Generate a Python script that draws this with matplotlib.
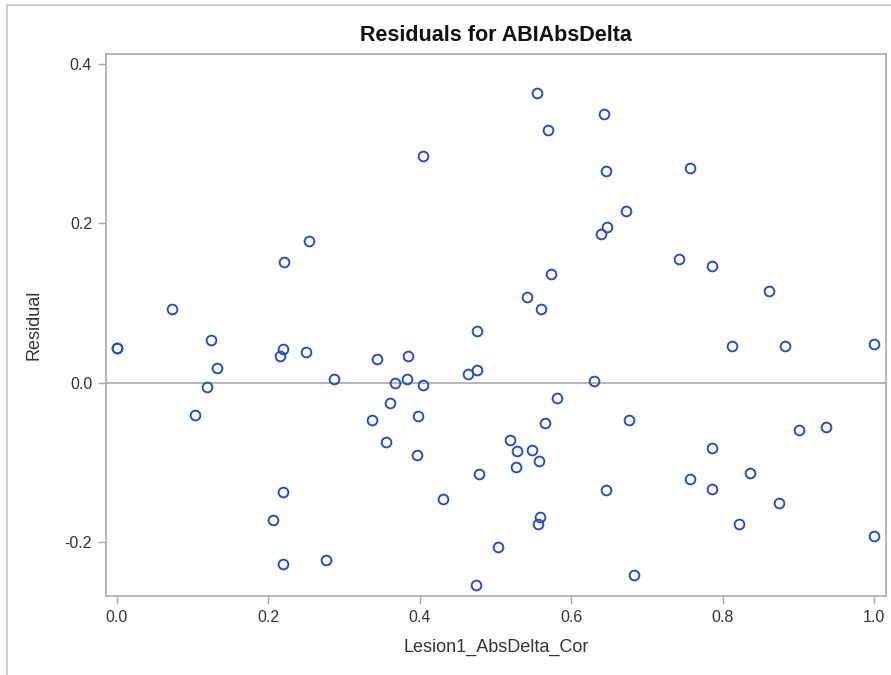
import matplotlib
matplotlib.use("Agg")
import matplotlib.pyplot as plt
from matplotlib.lines import Line2D

# Residuals
lesion_abs_delta = [
    0.000, 0.001, 0.073, 0.104, 0.119, 0.124, 0.132,
    0.207, 0.215, 0.219, 0.219, 0.219, 0.221, 0.250, 0.254,
    0.276, 0.287, 0.337, 0.344, 0.356, 0.361, 0.367, 0.383,
    0.385, 0.396, 0.398, 0.404, 0.404, 0.431, 0.464, 0.474,
    0.476, 0.476, 0.478, 0.503, 0.519, 0.527, 0.529, 0.542,
    0.548, 0.555, 0.556, 0.557, 0.559, 0.560, 0.566, 0.570,
    0.574, 0.582, 0.630, 0.640, 0.644, 0.646, 0.646, 0.648,
    0.672, 0.676, 0.683, 0.743, 0.757, 0.757, 0.786, 0.786,
    0.786, 0.813, 0.822, 0.836, 0.862, 0.875, 0.883, 0.901,
    0.936, 1.000, 1.000,
]
residual = [
    0.044, 0.043, 0.093, -0.041, -0.005, 0.053, 0.019,
    -0.173, 0.034, 0.042, -0.137, -0.227, 0.151, 0.039, 0.178,
    -0.222, 0.005, -0.047, 0.030, -0.074, -0.026, 0.000, 0.005,
    0.034, -0.091, -0.042, -0.003, 0.285, -0.146, 0.011, -0.254,
    0.016, 0.065, -0.115, -0.206, -0.072, -0.106, -0.086, 0.108,
    -0.084, 0.363, -0.178, -0.098, -0.169, 0.092, -0.051, 0.317,
    0.136, -0.019, 0.002, 0.187, 0.337, 0.266, -0.135, 0.196,
    0.215, -0.047, -0.241, 0.155, 0.270, -0.121, 0.146, -0.082,
    -0.133, 0.046, -0.177, -0.114, 0.115, -0.151, 0.046, -0.059,
    -0.056, 0.048, -0.192,
]

x_ticks = [0.0, 0.2, 0.4, 0.6, 0.8, 1.0]
y_ticks = [-0.2, 0.0, 0.2, 0.4]

plt.rcParams["font.family"] = ["Liberation Sans", "DejaVu Sans"]

fig = plt.figure(figsize=(8.91, 6.75), dpi=100)
ax = fig.add_axes([0.119, 0.1175, 0.875, 0.803])

marker_color = "#2B50B8"
frame_color = "#ABABAB"
text_color = "#333333"

ax.axhline(0.0, color="#A0A0A0", linewidth=1.1, zorder=1)
ax.plot(lesion_abs_delta, residual, linestyle="none", marker="o",
        markersize=7, markerfacecolor="none", markeredgecolor=marker_color,
        markeredgewidth=1.4, zorder=3)

ax.set_xlim(-0.0141, 1.0154)
ax.set_ylim(-0.2674, 0.413)
ax.set_xticks(x_ticks)
ax.set_yticks(y_ticks)
ax.set_xticklabels([f"{v:.1f}" for v in x_ticks])
ax.set_yticklabels([f"{v:.1f}" for v in y_ticks])

for spine in ax.spines.values():
    spine.set_color(frame_color)
    spine.set_linewidth(1.2)

ax.tick_params(axis="both", direction="out", length=6, width=1.0,
               color=frame_color, labelsize=11.5, labelcolor=text_color, pad=4)

ax.set_xlabel("Lesion1_AbsDelta_Cor", fontsize=13, color=text_color, labelpad=10)
ax.set_ylabel("Residual", fontsize=13, color=text_color, labelpad=16)
ax.set_title("Residuals for ABIAbsDelta", fontsize=15.5, fontweight="bold",
             color="#111111", pad=9)

# light frame of the embedded figure
fig.add_artist(Line2D([7 / 891, 1.0], [1 - 5 / 675, 1 - 5 / 675],
                      color="#D0D0D0", linewidth=1.5))
fig.add_artist(Line2D([7 / 891, 7 / 891], [0.0, 1 - 5 / 675],
                      color="#D0D0D0", linewidth=1.5))

fig.savefig("out.png", dpi=100)
